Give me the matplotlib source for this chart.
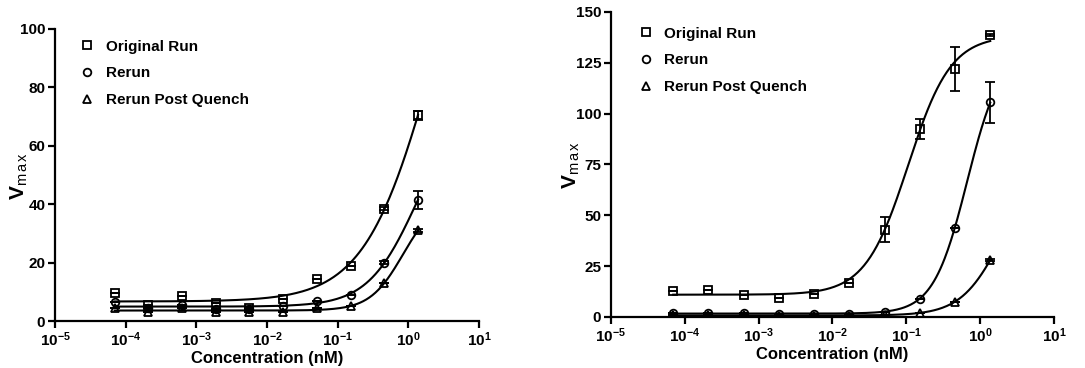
import numpy as np
import matplotlib
matplotlib.use("Agg")
import matplotlib.pyplot as plt

plt.rcParams['font.family'] = ['Liberation Sans', 'DejaVu Sans']
plt.rcParams['font.weight'] = 'bold'
plt.rcParams['mathtext.fontset'] = 'custom'
plt.rcParams['mathtext.rm'] = 'Liberation Sans:bold'
plt.rcParams['mathtext.it'] = 'Liberation Sans:bold'
plt.rcParams['mathtext.bf'] = 'Liberation Sans:bold'
plt.rcParams['mathtext.default'] = 'rm'

# 3-fold dilution series (nM)
conc = np.array([6.97e-5, 2.09e-4, 6.27e-4, 1.88e-3, 5.64e-3,
                 1.69e-2, 5.08e-2, 0.152, 0.457, 1.37])

series_names = ["Original Run", "Rerun", "Rerun Post Quench"]
markers = ["s", "o", "^"]

# left panel
left_orig = [9.5, 5.5, 8.5, 6.0, 4.5, 7.5, 14.5, 19.0, 38.5, 70.5]
left_orig_err = [0, 0, 0, 0, 0, 0, 0, 0, 0.5, 1.5]
left_rerun = [6.5, 4.5, 5.5, 4.0, 4.0, 5.0, 7.0, 9.0, 20.0, 41.5]
left_rerun_err = [0, 0, 0, 0, 0, 0, 0, 0, 0.5, 3.0]
left_quench = [4.5, 3.0, 4.5, 3.0, 3.0, 3.0, 4.5, 5.0, 13.0, 31.0]
left_quench_err = [0, 0, 0, 0, 0, 0, 0, 0, 0, 0.5]

# right panel
right_orig = [13.0, 13.5, 11.0, 9.5, 11.5, 16.5, 43.0, 92.5, 122.0, 138.5]
right_orig_err = [0, 0, 0, 0, 0, 0, 6.2, 4.8, 10.7, 0.5]
right_rerun = [2.0, 2.0, 2.0, 1.5, 1.5, 1.5, 2.5, 9.0, 44.0, 105.5]
right_rerun_err = [0, 0, 0, 0, 0, 0, 0, 0, 0, 10.0]
right_quench = [1.0, 1.0, 1.0, 0.5, 0.5, 0.5, 1.0, 2.0, 7.5, 28.0]
right_quench_err = [0, 0, 0, 0, 0, 0, 0, 0, 0, 0.5]

xticks = [1e-5, 1e-4, 1e-3, 1e-2, 1e-1, 1e0, 1e1]
xticklabels = [r'$10^{-5}$', r'$10^{-4}$', r'$10^{-3}$', r'$10^{-2}$',
               r'$10^{-1}$', r'$10^{0}$', r'$10^{1}$']


def fit_4pl(x, y):
  # grid over logEC50 / hill, bottom & top solved by linear least squares
  lx = np.log10(x)
  y = np.asarray(y, float)
  best = None
  for lec in np.linspace(-4, 2.5, 261):
    for h in np.linspace(0.4, 3.0, 53):
      f = 1.0 / (1.0 + 10 ** ((lec - lx) * h))
      A = np.column_stack([1 - f, f])
      coef, *_ = np.linalg.lstsq(A, y, rcond=None)
      sse = np.sum((A @ coef - y) ** 2)
      if best is None or sse < best[0]:
        best = (sse, coef[0], coef[1], lec, h)
  return best[1:]


def curve(params, xs):
  b, t, lec, h = params
  return b + (t - b) / (1.0 + 10 ** ((lec - np.log10(xs)) * h))


def draw_panel(ax, data, errs, ylim, yticks, legend_anchor, ylabel_xy):
  xs = np.logspace(np.log10(conc[0]), np.log10(conc[-1]), 300)
  for name, m, y, e in zip(series_names, markers, data, errs):
    p = fit_4pl(conc, y)
    ax.plot(xs, curve(p, xs), color="black", lw=1.5, zorder=2)
    ax.errorbar(conc, y, yerr=e, fmt=m, color="black", mfc="none",
                mec="black", ms=5.5, mew=1.3, elinewidth=1.3, capsize=3.5,
                capthick=1.3, label=name, zorder=3)
  ax.set_xscale("log")
  ax.set_xlim(1e-5, 1e1)
  ax.set_ylim(*ylim)
  ax.set_yticks(yticks)
  ax.set_xticks(xticks)
  ax.set_xticklabels(xticklabels)
  ax.minorticks_off()
  ax.xaxis.set_minor_locator(matplotlib.ticker.NullLocator())
  for s in ["top", "right"]:
    ax.spines[s].set_visible(False)
  for s in ["left", "bottom"]:
    ax.spines[s].set_linewidth(1.6)
  ax.tick_params(axis="both", direction="out", length=5, width=1.6,
                 labelsize=11, pad=2)
  ax.set_xlabel("Concentration (nM)", fontsize=12, fontweight="bold", labelpad=1)
  ax.set_ylabel(r'$V_{\mathregular{m\,a\,x}}$', fontsize=15)
  ax.yaxis.set_label_coords(*ylabel_xy)
  handles, labels = ax.get_legend_handles_labels()
  handles = [h[0] for h in handles]
  ax.legend(handles, labels, loc="upper left", bbox_to_anchor=legend_anchor,
            frameon=False, fontsize=11, handlelength=1.0, handletextpad=0.7,
            labelspacing=0.83, borderpad=0, borderaxespad=0)


fig = plt.figure(figsize=(10.85, 3.68), dpi=100)
ax1 = fig.add_axes([0.0507, 0.1277, 0.3908, 0.7935])
ax2 = fig.add_axes([0.5631, 0.1386, 0.4083, 0.8288])

draw_panel(ax1, [left_orig, left_rerun, left_quench],
           [left_orig_err, left_rerun_err, left_quench_err],
           (0, 100), [0, 20, 40, 60, 80, 100], (0.058, 0.963), (-0.059, 0.497))
draw_panel(ax2, [right_orig, right_rerun, right_quench],
           [right_orig_err, right_rerun_err, right_quench_err],
           (0, 150), [0, 25, 50, 75, 100, 125, 150], (0.062, 0.952), (-0.065, 0.498))

fig.savefig("out.png", dpi=100)
